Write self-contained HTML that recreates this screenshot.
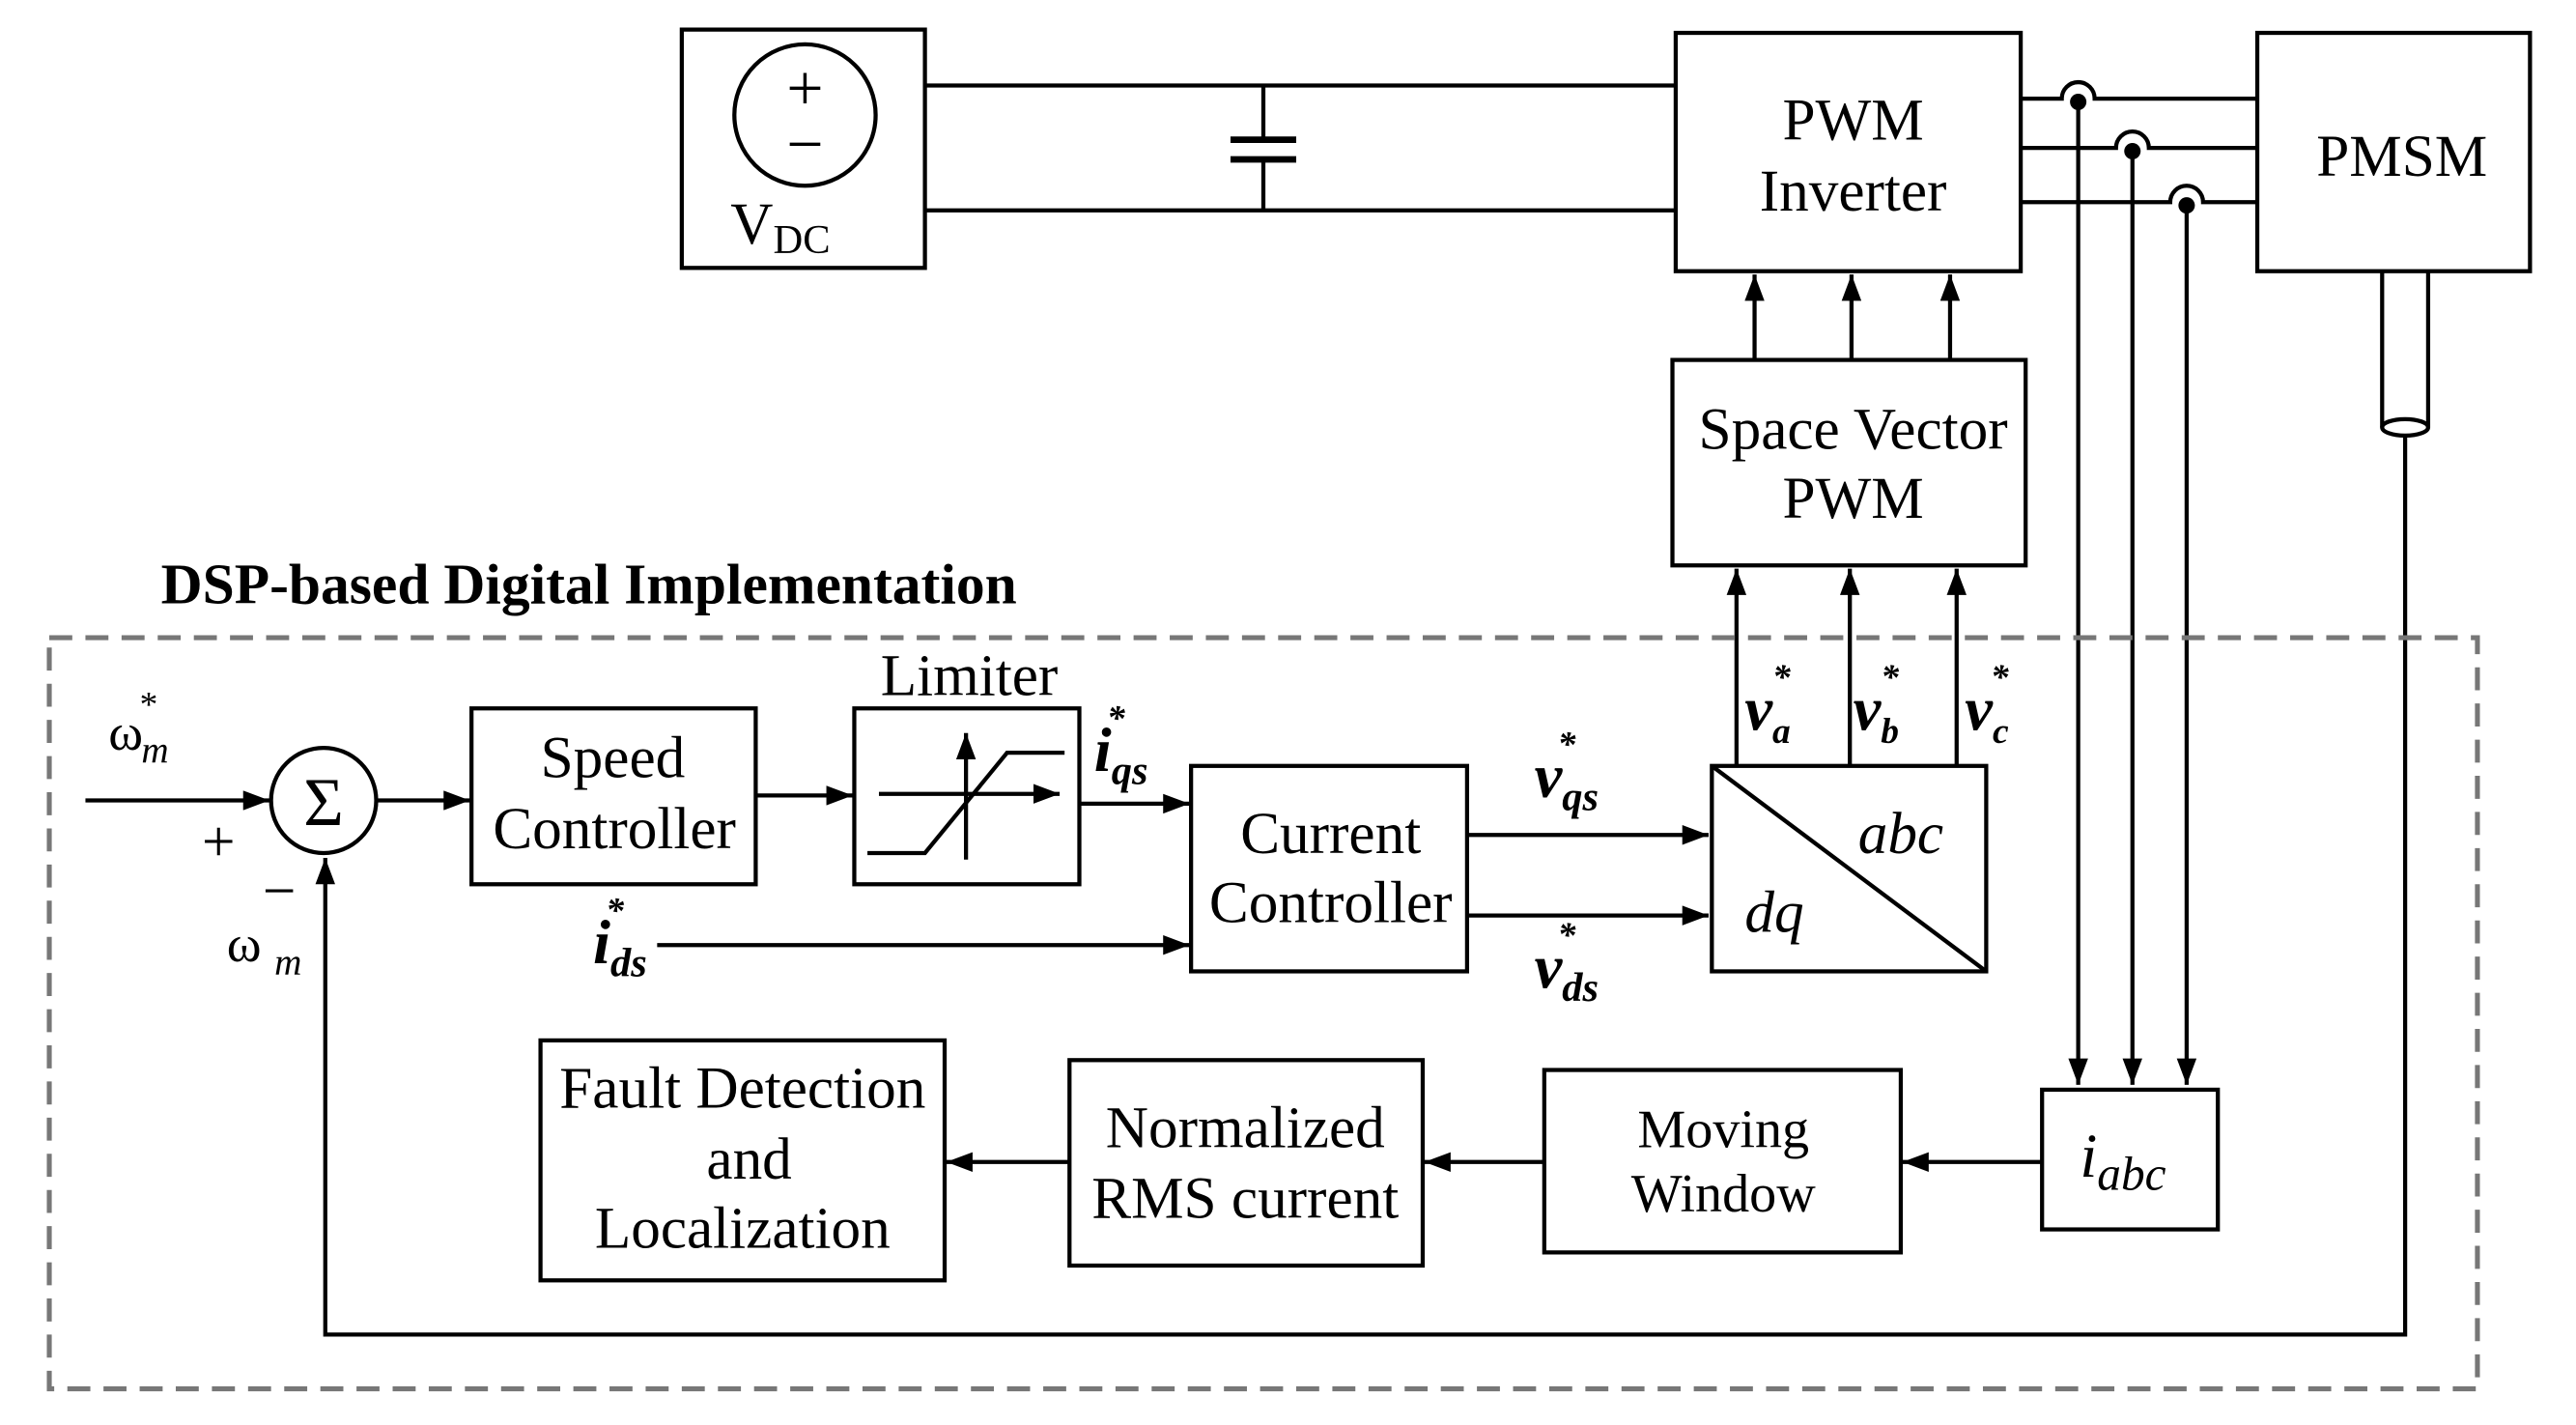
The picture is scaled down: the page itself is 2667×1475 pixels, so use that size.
<!DOCTYPE html>
<html><head><meta charset="utf-8"><style>
html,body{margin:0;padding:0;background:#fff;}
svg{display:block;}
text{font-family:"Liberation Serif",serif;fill:#000;}
</style></head><body>
<svg width="2667" height="1475" viewBox="0 0 1568 867" preserveAspectRatio="none" xmlns="http://www.w3.org/2000/svg">
<defs>
<marker id="b" viewBox="0 0 16 12" markerWidth="16" markerHeight="12" refX="16" refY="6" orient="auto" markerUnits="userSpaceOnUse"><path d="M0,0 L16,6 L0,12 Z"/></marker>
</defs>
<g stroke="#000" stroke-width="2.5" fill="none">
<rect x="415" y="18" width="148" height="145"/>
<circle cx="490" cy="70" r="43"/>
<line x1="563" y1="52" x2="1020" y2="52"/>
<line x1="563" y1="128" x2="1020" y2="128"/>
<line x1="769" y1="52" x2="769" y2="85"/>
<line x1="769" y1="97" x2="769" y2="128"/>
<line x1="749" y1="85" x2="789" y2="85" stroke-width="4"/>
<line x1="749" y1="97" x2="789" y2="97" stroke-width="4"/>
<rect x="1020" y="20" width="210" height="145"/>
<rect x="1374" y="20" width="166" height="145"/>
<path d="M1230,60 H1255 A10,10 0 0 1 1275,60 H1374"/>
<path d="M1230,90 H1288 A10,10 0 0 1 1308,90 H1374"/>
<path d="M1230,123 H1321 A10,10 0 0 1 1341,123 H1374"/>
<line x1="1265" y1="62" x2="1265" y2="660" marker-end="url(#b)"/>
<line x1="1298" y1="92" x2="1298" y2="660" marker-end="url(#b)"/>
<line x1="1331" y1="125" x2="1331" y2="660" marker-end="url(#b)"/>
<path d="M1450,165 V260 M1478,165 V260"/>
<ellipse cx="1464" cy="260" rx="14" ry="5"/>
<path d="M1464,266 V812 H198 V522" marker-end="url(#b)"/>
<rect x="1018" y="219" width="215" height="125"/>
<line x1="1068" y1="219" x2="1068" y2="167" marker-end="url(#b)"/>
<line x1="1127" y1="219" x2="1127" y2="167" marker-end="url(#b)"/>
<line x1="1187" y1="219" x2="1187" y2="167" marker-end="url(#b)"/>
<line x1="1057" y1="466" x2="1057" y2="346" marker-end="url(#b)"/>
<line x1="1126" y1="466" x2="1126" y2="346" marker-end="url(#b)"/>
<line x1="1191" y1="466" x2="1191" y2="346" marker-end="url(#b)"/>
<rect x="30" y="388" width="1478" height="457" stroke="#777" stroke-dasharray="14,8" stroke-width="3"/>
<line x1="52" y1="487" x2="164" y2="487" marker-end="url(#b)"/>
<circle cx="197" cy="487" r="32"/>
<line x1="229" y1="487" x2="286" y2="487" marker-end="url(#b)"/>
<rect x="287" y="431" width="173" height="107"/>
<line x1="460" y1="484" x2="519" y2="484" marker-end="url(#b)"/>
<rect x="520" y="431" width="137" height="107"/>
<line x1="535" y1="483" x2="645" y2="483" marker-end="url(#b)"/>
<line x1="588" y1="523" x2="588" y2="446" marker-end="url(#b)"/>
<path d="M528,519 H563 L613,458 H648"/>
<line x1="657" y1="489" x2="724" y2="489" marker-end="url(#b)"/>
<rect x="725" y="466" width="168" height="125"/>
<line x1="400" y1="575" x2="724" y2="575" marker-end="url(#b)"/>
<line x1="893" y1="508" x2="1040" y2="508" marker-end="url(#b)"/>
<line x1="893" y1="557" x2="1040" y2="557" marker-end="url(#b)"/>
<rect x="1042" y="466" width="167" height="125"/>
<line x1="1042" y1="466" x2="1209" y2="591"/>
<rect x="1243" y="663" width="107" height="85"/>
<line x1="1243" y1="707" x2="1158" y2="707" marker-end="url(#b)"/>
<rect x="940" y="651" width="217" height="111"/>
<line x1="940" y1="707" x2="867" y2="707" marker-end="url(#b)"/>
<rect x="651" y="645" width="215" height="125"/>
<line x1="651" y1="707" x2="576" y2="707" marker-end="url(#b)"/>
<rect x="329" y="633" width="246" height="146"/>
</g>
<g fill="#000">
<circle cx="1265" cy="62" r="5"/><circle cx="1298" cy="92" r="5"/><circle cx="1331" cy="125" r="5"/>
</g>
<g font-size="36" text-anchor="middle">
<text x="490" y="67" font-size="40">+</text>
<text x="490" y="101" font-size="40">−</text>
<text x="475" y="148">V<tspan font-size="25" dy="6">DC</tspan></text>
<text x="1128" y="85">PWM</text>
<text x="1128" y="128">Inverter</text>
<text x="1462" y="107">PMSM</text>
<text x="1128" y="273">Space Vector</text>
<text x="1128" y="315">PWM</text>
<text x="373" y="473">Speed</text>
<text x="374" y="516">Controller</text>
<text x="590" y="423">Limiter</text>
<text x="810" y="519">Current</text>
<text x="810" y="561">Controller</text>
<text x="452" y="674">Fault Detection</text>
<text x="456" y="717">and</text>
<text x="452" y="759">Localization</text>
<text x="758" y="698">Normalized</text>
<text x="758" y="741">RMS current</text>
<text x="1049" y="698" font-size="33">Moving</text>
<text x="1049" y="737" font-size="33">Window</text>
<text x="197" y="502" font-size="42">Σ</text>
<text x="133" y="524" font-size="36">+</text>
<text x="170" y="554" font-size="36">−</text>
</g>
<text x="98" y="367" font-size="35" font-weight="bold">DSP-based Digital Implementation</text>
<g font-style="italic">
<text x="1131" y="519" font-size="36">abc</text>
<text x="1062" y="567" font-size="36">dq</text>
<text x="1266" y="716" font-size="38">i<tspan font-size="29" dy="8">abc</tspan></text>
</g>
<text x="66" y="456" font-size="32">ω<tspan font-size="22" dy="-20" dx="-2">*</tspan><tspan font-size="23" font-style="italic" dy="28" dx="-10">m</tspan></text>
<text x="138" y="585" font-size="32">ω<tspan font-size="23" font-style="italic" dy="8" dx="8">m</tspan></text>
<g font-weight="bold" font-style="italic">
<text x="666" y="469" font-size="38">i<tspan font-size="25" dy="8">qs</tspan><tspan font-size="22" dy="-33" dx="-25">*</tspan></text>
<text x="361" y="586" font-size="38">i<tspan font-size="25" dy="8">ds</tspan><tspan font-size="22" dy="-33" dx="-25">*</tspan></text>
<text x="934" y="485" font-size="38">v<tspan font-size="25" dy="8">qs</tspan><tspan font-size="22" dy="-33" dx="-25">*</tspan></text>
<text x="934" y="601" font-size="38">v<tspan font-size="25" dy="8">ds</tspan><tspan font-size="22" dy="-33" dx="-25">*</tspan></text>
<text x="1062" y="444" font-size="38">v<tspan font-size="22" dy="8">a</tspan><tspan font-size="22" dy="-33" dx="-11">*</tspan></text>
<text x="1128" y="444" font-size="38">v<tspan font-size="22" dy="8">b</tspan><tspan font-size="22" dy="-33" dx="-11">*</tspan></text>
<text x="1196" y="444" font-size="38">v<tspan font-size="22" dy="8">c</tspan><tspan font-size="22" dy="-33" dx="-11">*</tspan></text>
</g>
</svg>
</body></html>
